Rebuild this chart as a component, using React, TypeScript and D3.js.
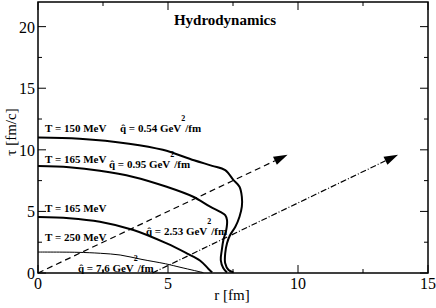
import React from "react";
import * as d3 from "d3";

// ---- data ----
const rOuter = [0, 1.6, 3.5, 4.8, 6.0, 6.7, 7.2, 7.52, 7.75, 7.84, 7.84, 7.75, 7.59, 7.39, 7.27, 7.2, 7.2, 7.33, 7.52];
const tOuter = [11.0, 10.9, 10.5, 10.0, 9.15, 8.7, 8.35, 7.54, 7.0, 6.19, 5.38, 4.57, 3.75, 3.08, 2.41, 1.6, 0.79, 0.24, 0.05];

const rMid = [0, 1.2, 2.38, 3.67, 4.95, 5.97, 6.62, 7.01, 7.2, 7.27, 7.24, 7.13, 7.07, 7.03, 7.13, 7.27];
const tMid = [8.68, 8.58, 8.3, 7.8, 7.0, 6.19, 5.38, 4.97, 4.7, 4.3, 3.49, 2.68, 1.87, 1.05, 0.38, 0.05];

const rInner = [0, 1.2, 2.38, 3.67, 4.95, 5.72, 6.24, 6.55, 6.7];
const tInner = [4.55, 4.45, 4.16, 3.49, 2.4, 1.6, 1.0, 0.35, 0.05];

const rThin = [0, 1.5, 2.4, 3.16, 4.0, 4.9, 5.5, 6.36];
const tThin = [1.7, 1.68, 1.6, 1.46, 1.1, 0.75, 0.45, 0.03];

const dashedArrow = [[0, 0], [9.6, 9.6]];
const dashDotArrow = [[4.4, 0], [13.85, 9.6]];

const xTicksMajor = [0, 5, 10, 15];
const xTicksMinor = [2.5, 7.5, 12.5];
const yTicksMajor = [0, 5, 10, 15, 20];
const yTicksMinor = [2.5, 7.5, 12.5, 17.5];

const W = 436, H = 308;
const L = 38, R = 428, T = 2, B = 273;

const x = d3.scaleLinear().domain([0, 15]).range([L, R]);
const y = d3.scaleLinear().domain([0, 22]).range([B, T]);

const zip = (a: number[], b: number[]) => a.map((v, i) => [v, b[i]] as [number, number]);
const line = d3.line<[number, number]>().x(d => x(d[0])).y(d => y(d[1])).curve(d3.curveCatmullRom.alpha(0.5));

const FONT = "'Liberation Serif', 'Times New Roman', Times, 'DejaVu Serif', serif";

function Arrow({ pts, dash }: { pts: number[][]; dash: string }) {
  const x0 = x(pts[0][0]), y0 = y(pts[0][1]);
  const x1 = x(pts[1][0]), y1 = y(pts[1][1]);
  const ang = Math.atan2(y1 - y0, x1 - x0);
  const len = 14, wid = 4.5;
  const bx = x1 - len * Math.cos(ang), by = y1 - len * Math.sin(ang);
  const px = -Math.sin(ang) * wid, py = Math.cos(ang) * wid;
  return (
    <g>
      <line x1={x0} y1={y0} x2={bx} y2={by} stroke="#000" strokeWidth={1.2} strokeDasharray={dash} />
      <path d={`M${x1},${y1}L${bx + px},${by + py}L${bx - px},${by - py}Z`} fill="#000" />
    </g>
  );
}

function Label({ px, py, text }: { px: number; py: number; text: string }) {
  return (
    <text x={px} y={py} fontWeight="bold" fontSize={11}>{text}</text>
  );
}

function QLabel({ px, py, val }: { px: number; py: number; val: string }) {
  return (
    <text x={px} y={py} fontWeight="bold" fontSize={11}>
      {"q\u0302 = " + val + " GeV"}
      <tspan dy={-11} fontSize={8}>2</tspan>
      <tspan dy={11}>/fm</tspan>
    </text>
  );
}

export default function App() {
  return (
    <svg width={W} height={H} style={{ position: "absolute", left: 0, top: 0, background: "#fff", fontFamily: FONT }}>
      <rect x={0} y={0} width={W} height={H} fill="#fff" />
      {/* curves */}
      <path d={line(zip(rOuter, tOuter)) || ""} fill="none" stroke="#000" strokeWidth={2} />
      <path d={line(zip(rMid, tMid)) || ""} fill="none" stroke="#000" strokeWidth={2} />
      <path d={line(zip(rInner, tInner)) || ""} fill="none" stroke="#000" strokeWidth={2} />
      <path d={line(zip(rThin, tThin)) || ""} fill="none" stroke="#000" strokeWidth={1} />
      <Arrow pts={dashedArrow} dash="6,4" />
      <Arrow pts={dashDotArrow} dash="6,2,1,2" />

      {/* frame */}
      <rect x={L} y={T} width={R - L} height={B - T} fill="none" stroke="#000" strokeWidth={1.5} />
      {xTicksMajor.map(v => (
        <g key={"xM" + v}>
          <line x1={x(v)} x2={x(v)} y1={B} y2={B - 8} stroke="#000" strokeWidth={1} />
          <line x1={x(v)} x2={x(v)} y1={T} y2={T + 8} stroke="#000" strokeWidth={1} />
          <text x={x(v)} y={289} textAnchor="middle" fontSize={16}>{v}</text>
        </g>
      ))}
      {xTicksMinor.map(v => (
        <g key={"xm" + v}>
          <line x1={x(v)} x2={x(v)} y1={B} y2={B - 4} stroke="#000" strokeWidth={1} />
          <line x1={x(v)} x2={x(v)} y1={T} y2={T + 4} stroke="#000" strokeWidth={1} />
        </g>
      ))}
      {yTicksMajor.map(v => (
        <g key={"yM" + v}>
          <line x1={L} x2={L + 8} y1={y(v)} y2={y(v)} stroke="#000" strokeWidth={1} />
          <line x1={R} x2={R - 8} y1={y(v)} y2={y(v)} stroke="#000" strokeWidth={1} />
          <text x={35} y={y(v) + 6} textAnchor="end" fontSize={16}>{v}</text>
        </g>
      ))}
      {yTicksMinor.map(v => (
        <g key={"ym" + v}>
          <line x1={L} x2={L + 4} y1={y(v)} y2={y(v)} stroke="#000" strokeWidth={1} />
          <line x1={R} x2={R - 4} y1={y(v)} y2={y(v)} stroke="#000" strokeWidth={1} />
        </g>
      ))}
      <text x={232} y={300} textAnchor="middle" fontSize={15}>r [fm]</text>
      <text transform="translate(16,132) rotate(-90)" textAnchor="middle" fontSize={15}>τ [fm/c]</text>

      <text x={225} y={25} textAnchor="middle" fontWeight="bold" fontSize={15}>Hydrodynamics</text>

      {/* annotations */}
      <Label px={45} py={132} text="T = 150 MeV" />
      <QLabel px={120} py={132} val="0.54" />
      <Label px={45} py={163} text="T = 165 MeV" />
      <QLabel px={109} py={168} val="0.95" />
      <Label px={45} py={212} text="T = 165 MeV" />
      <QLabel px={146} py={235} val="2.53" />
      <Label px={45} py={241} text="T = 250 MeV" />
      <QLabel px={78} py={272} val="7,6" />
    </svg>
  );
}
